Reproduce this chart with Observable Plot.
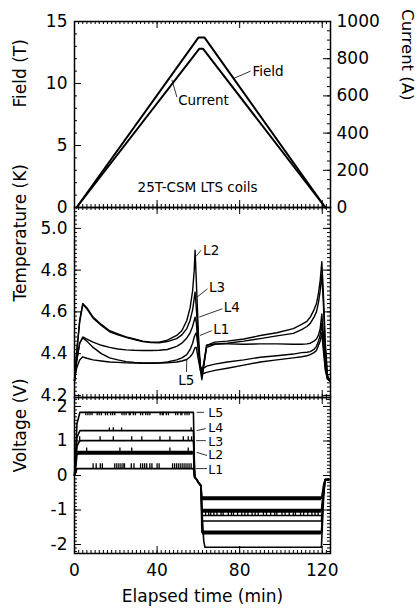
<!DOCTYPE html>
<html><head><meta charset="utf-8">
<script src="https://cdn.jsdelivr.net/npm/d3@7"></script>
<script src="https://cdn.jsdelivr.net/npm/@observablehq/plot@0.6"></script>
<style>
body{margin:0;background:#fff;}
#chart{position:relative;width:419px;height:611px;}
#chart svg{position:absolute;left:0;top:0;}
</style></head><body><div id="chart"></div>
<script>
// ---------- DATA ----------
// Panel 1: field (T) and current (A) vs elapsed time (min)
const fieldTime = [1, 60, 63, 121.5];
const fieldValue = [0, 13.7, 13.7, 0];
const currentTime = [1, 60.4, 62.3, 121.5];
const currentValue = [0, 853, 853, 0];

// Panel 2: temperatures (K) of the five LTS coils
const tempTime = [0, 1, 2.5, 4, 6, 9, 13, 17, 21, 25, 29, 33, 37, 41, 45, 49.5, 52, 54.4, 56, 57.2, 58, 58.4, 59, 60, 61, 61.7, 62.5, 64, 68, 74, 82, 90, 98, 106, 110, 112.6, 114.2, 116, 117.2, 118.2, 119, 119.8, 120.5, 121.5, 122.5, 123.5];
const tempL2 = [4.27, 4.40, 4.56, 4.64, 4.62, 4.575, 4.54, 4.51, 4.495, 4.48, 4.47, 4.46, 4.455, 4.455, 4.465, 4.487, 4.51, 4.559, 4.62, 4.70, 4.80, 4.895, 4.75, 4.50, 4.32, 4.275, 4.33, 4.44, 4.455, 4.46, 4.47, 4.487, 4.50, 4.52, 4.54, 4.555, 4.575, 4.61, 4.64, 4.69, 4.75, 4.84, 4.70, 4.45, 4.30, 4.27];
const tempL3 = [4.27, 4.40, 4.55, 4.635, 4.615, 4.57, 4.535, 4.505, 4.49, 4.478, 4.468, 4.458, 4.453, 4.452, 4.458, 4.472, 4.49, 4.52, 4.56, 4.61, 4.665, 4.695, 4.62, 4.45, 4.33, 4.30, 4.34, 4.43, 4.445, 4.45, 4.46, 4.472, 4.485, 4.497, 4.515, 4.53, 4.545, 4.575, 4.60, 4.647, 4.70, 4.78, 4.65, 4.42, 4.29, 4.27];
const tempL4 = [4.27, 4.36, 4.45, 4.48, 4.47, 4.455, 4.44, 4.43, 4.422, 4.418, 4.416, 4.415, 4.415, 4.416, 4.42, 4.435, 4.45, 4.475, 4.50, 4.53, 4.56, 4.575, 4.55, 4.42, 4.34, 4.31, 4.35, 4.44, 4.447, 4.447, 4.445, 4.447, 4.447, 4.445, 4.445, 4.447, 4.45, 4.46, 4.47, 4.49, 4.52, 4.59, 4.50, 4.36, 4.28, 4.27];
const tempL1 = [4.27, 4.36, 4.45, 4.475, 4.46, 4.43, 4.40, 4.38, 4.37, 4.362, 4.358, 4.355, 4.355, 4.356, 4.36, 4.37, 4.38, 4.395, 4.42, 4.45, 4.48, 4.49, 4.50, 4.42, 4.34, 4.325, 4.33, 4.34, 4.35, 4.36, 4.37, 4.383, 4.39, 4.398, 4.405, 4.407, 4.41, 4.42, 4.435, 4.46, 4.49, 4.545, 4.45, 4.33, 4.28, 4.27];
const tempL5 = [4.27, 4.33, 4.37, 4.385, 4.378, 4.37, 4.365, 4.36, 4.358, 4.356, 4.355, 4.354, 4.354, 4.355, 4.356, 4.36, 4.365, 4.372, 4.385, 4.40, 4.42, 4.43, 4.43, 4.37, 4.32, 4.305, 4.305, 4.31, 4.32, 4.33, 4.345, 4.36, 4.37, 4.38, 4.385, 4.39, 4.395, 4.405, 4.415, 4.44, 4.46, 4.50, 4.42, 4.32, 4.28, 4.27];

// Panel 3: coil voltages (V)
const voltTime = [0, 0.6, 1.2, 2.6, 57.6, 58.2, 59.0, 60.0, 61.3, 61.7, 62.6, 63.2, 119.6, 120.1, 120.7, 121.4, 123.2];
const voltL1 = [0, 0.08, 0.2, 0.2, 0.2, -0.05, -0.1, -0.2, -0.3, -0.66, -0.66, -0.66, -0.66, -0.5, -0.25, -0.12, -0.12];
const voltL2 = [0, 0.25, 0.6, 0.67, 0.67, -0.05, -0.1, -0.2, -0.3, -1.02, -1.02, -1.02, -1.02, -0.7, -0.35, -0.12, -0.12];
const voltL3 = [0, 0.35, 0.85, 1.01, 1.01, -0.05, -0.1, -0.2, -0.3, -1.32, -1.32, -1.32, -1.32, -0.9, -0.45, -0.12, -0.12];
const voltL4 = [0, 0.45, 1.1, 1.30, 1.30, -0.05, -0.1, -0.2, -0.3, -1.65, -1.65, -1.65, -1.65, -1.1, -0.5, -0.12, -0.12];
const voltL5 = [0, 0.7, 1.5, 1.83, 1.83, -0.05, -0.1, -0.2, -0.3, -1.0, -1.9, -2.08, -2.08, -1.4, -0.6, -0.12, -0.12];
// noisy envelopes (level, from, to)
const bandLevel = [0.66, -0.66, -1.02, -1.65];
const bandFrom = [1.5, 62, 62, 62];
const bandTo = [57.5, 119.6, 119.6, 119.6];
const l2LowTime = [62, 119.6];
const l2LowValue = [-1.16, -1.16];
// spikes (time of each glitch)
const spikeL5 = [5.5, 6.5, 7.5, 8.5, 11, 12, 13, 15, 16, 17.5, 18.5, 19.5, 23, 24, 25, 26.5, 27, 28.5, 29.5, 32, 33, 34.5, 35.5, 36.5, 41.5, 42.5, 43, 44.5, 45.5, 49, 50, 51.5, 52, 53.5, 54.5, 55.5];
const spikeL4 = [16.9, 18.8, 22.8, 56.5];
const spikeL3 = [2.5, 12.4, 18.8, 27.7, 32.6, 41.4, 46.2, 52.7, 55.1, 56.7];
const spikeL2 = [5.9, 22, 27.7, 46.2, 55.1];
const spikeL1 = [9, 10.5, 12.5, 13.5, 19.5, 20.5, 21.5, 22.5, 23.5, 24.2, 27.5, 28.8, 32, 33, 34, 35, 36.5, 37.5, 40, 41, 47.5, 48.5, 49.5, 50.5, 51.5, 52.5, 53.5, 54.5, 55.5, 56.5];
const spikeNeg = [63.5, 65, 66, 67.5, 69, 71, 72, 74.5, 76, 77, 79, 81, 82.5, 84, 86, 87.5, 89, 91.5, 93, 95, 97, 98, 100.5, 102, 104, 106, 107, 109.5, 111, 113, 115, 116.5, 118];

// tick labels
const timeTicks = [0, 40, 80, 120];
const fieldTicks = [0, 5, 10, 15];
const currentTicks = [0, 200, 400, 600, 800, 1000];
const tempTicks = [4.2, 4.4, 4.6, 4.8, 5.0];
const voltTicks = [-2, -1, 0, 1, 2];
const seriesNames = ["L1", "L2", "L3", "L4", "L5"];

// ---------- LAYOUT ----------
const W = 419, H = 611, ML = 74, MR = 89;
const FW = W - ML - MR;
const FONT = "DejaVu Sans, Verdana, sans-serif";
const xDomain = [0, 124];
const A2T = 15 / 1000; // current -> field axis units
const xMinor = d3.range(0, 124.01, 2);

function inDom(vals, dom) {
  const lo = Math.min(...dom) - 1e-9, hi = Math.max(...dom) + 1e-9;
  return vals.filter(v => v >= lo && v <= hi);
}
function boxTicks(fh, lMaj, lMin, rMaj, rMin, yDom) {
  const s = 1;
  return [
    Plot.tickX(xMinor, {x: d => d, insetTop: fh - 3, strokeWidth: s}),
    Plot.tickX(xMinor, {x: d => d, insetBottom: fh - 3, strokeWidth: s}),
    Plot.tickX(timeTicks, {x: d => d, insetTop: fh - 7, strokeWidth: s}),
    Plot.tickX(timeTicks, {x: d => d, insetBottom: fh - 7, strokeWidth: s}),
    Plot.tickY(inDom(lMin, yDom), {y: d => d, insetRight: FW - 3, strokeWidth: s}),
    Plot.tickY(inDom(lMaj, yDom), {y: d => d, insetRight: FW - 7, strokeWidth: s}),
    Plot.tickY(inDom(rMin, yDom), {y: d => d, insetLeft: FW - 3, strokeWidth: s}),
    Plot.tickY(inDom(rMaj, yDom), {y: d => d, insetLeft: FW - 7, strokeWidth: s}),
  ];
}
const baseStyle = {background: "transparent", fontFamily: FONT, fontSize: "17px", color: "black", overflow: "visible"};

// ---------- PANEL 1 ----------
const p1Dom = [0, 15];
const fieldData = fieldTime.map((t, i) => ({t, v: fieldValue[i]}));
const currentData = currentTime.map((t, i) => ({t, v: currentValue[i] * A2T}));
const p1 = Plot.plot({
  width: W, height: H, marginLeft: ML, marginRight: MR, marginTop: 21, marginBottom: H - 207,
  style: baseStyle,
  x: {domain: xDomain, axis: null},
  y: {domain: p1Dom, axis: null},
  marks: [
    ...boxTicks(186, fieldTicks, d3.range(0, 15.01, 1), currentTicks.map(a => a * A2T), d3.range(0, 1000.1, 50).map(a => a * A2T), p1Dom),
    Plot.frame({strokeWidth: 1.5}),
    Plot.line(fieldData, {x: "t", y: "v", strokeWidth: 2, stroke: "black"}),
    Plot.line(currentData, {x: "t", y: "v", strokeWidth: 2, stroke: "black"}),
    Plot.link([{x1: 77, y1: 10.4, x2: 85.3, y2: 11.0}], {x1: "x1", y1: "y1", x2: "x2", y2: "y2", strokeWidth: 0.8}),
    Plot.text(["Field"], {x: [86.2], y: [10.95], textAnchor: "start", fontSize: 13.5}),
    Plot.link([{x1: 47.2, y1: 10.3, x2: 49.6, y2: 8.9}], {x1: "x1", y1: "y1", x2: "x2", y2: "y2", strokeWidth: 0.8}),
    Plot.text(["Current"], {x: [50.2], y: [8.6], textAnchor: "start", fontSize: 13.5}),
    Plot.text(["25T-CSM LTS coils"], {x: [59.6], y: [1.62], fontSize: 13.5}),
    Plot.axisY(fieldTicks, {anchor: "left", tickSize: 0, tickPadding: 7, label: null, tickFormat: d => String(d)}),
    Plot.axisY(currentTicks.map(a => a * A2T), {anchor: "right", tickSize: 0, tickPadding: 6, label: null, tickFormat: d => String(Math.round(d / A2T))}),
    Plot.text(["Field (T)"], {frameAnchor: "left", rotate: -90, dx: -54, dy: -7, fontSize: 17}),
    Plot.text(["Current (A)"], {frameAnchor: "right", rotate: 90, dx: 77, dy: -14, fontSize: 16.5})
  ]
});

// ---------- PANEL 2 ----------
const p2Dom = [4.19, 5.1];
const tempSeries = {L1: tempL1, L2: tempL2, L3: tempL3, L4: tempL4, L5: tempL5};
const tempData = seriesNames.flatMap(s => tempTime.map((t, i) => ({s, t, v: tempSeries[s][i]})));
const tLabels = [
  {s: "L2", x1: 58.9, y1: 4.866, x2: 61.3, y2: 4.895, tx: 62.3, ty: 4.895},
  {s: "L3", x1: 59.2, y1: 4.67, x2: 64.4, y2: 4.71, tx: 65.1, ty: 4.715},
  {s: "L4", x1: 60.4, y1: 4.575, x2: 71.6, y2: 4.615, tx: 72.3, ty: 4.62},
  {s: "L1", x1: 60.8, y1: 4.487, x2: 66.4, y2: 4.51, tx: 67.2, ty: 4.515}
];
const p2 = Plot.plot({
  width: W, height: H, marginLeft: ML, marginRight: MR, marginTop: 207, marginBottom: H - 397,
  style: baseStyle,
  x: {domain: xDomain, axis: null},
  y: {domain: p2Dom, axis: null},
  marks: [
    ...boxTicks(190, tempTicks, d3.range(4.2, 5.101, 0.02), tempTicks, d3.range(4.2, 5.101, 0.02), p2Dom),
    Plot.frame({strokeWidth: 1.5}),
    Plot.line(tempData, {x: "t", y: "v", z: "s", stroke: "black", strokeWidth: 1.4}),
    Plot.link(tLabels, {x1: "x1", y1: "y1", x2: "x2", y2: "y2", strokeWidth: 0.8}),
    Plot.text(tLabels, {x: "tx", y: "ty", text: "s", textAnchor: "start", fontSize: 13.5}),
    Plot.link([{x1: 54.4, y1: 4.37, x2: 54.2, y2: 4.312}], {x1: "x1", y1: "y1", x2: "x2", y2: "y2", strokeWidth: 0.8}),
    Plot.text(["L5"], {x: [54.1], y: [4.272], fontSize: 13.5}),
    Plot.axisY(tempTicks, {anchor: "left", tickSize: 0, tickPadding: 7, label: null, tickFormat: d => d.toFixed(1)}),
    Plot.text(["Temperature (K)"], {frameAnchor: "left", rotate: -90, dx: -54, dy: -1, fontSize: 17})
  ]
});

// ---------- PANEL 3 ----------
const p3Dom = [-2.26, 2.26];
const voltSeries = {L1: voltL1, L2: voltL2, L3: voltL3, L4: voltL4, L5: voltL5};
const voltData = seriesNames.flatMap(s => voltTime.map((t, i) => ({s, t, v: voltSeries[s][i]})));
const bands = bandLevel.map((v, i) => ({v, a: bandFrom[i], b: bandTo[i]}));
const l2Low = l2LowTime.map((t, i) => ({t, v: l2LowValue[i]}));
const spikes = [
  ...spikeL5.map(t => ({t, a: 1.83, b: 1.73})),
  ...spikeL4.map(t => ({t, a: 1.30, b: 1.38})),
  ...spikeL3.map(t => ({t, a: 1.01, b: 1.12})),
  ...spikeL2.map(t => ({t, a: 0.67, b: 0.80})),
  ...spikeL1.map(t => ({t, a: 0.2, b: 0.34})),
  ...spikeNeg.map(t => ({t, a: -1.02, b: -1.16}))
];
const vLabels = [
  {s: "L5", x1: 59.2, y1: 1.83, x2: 62.7, y2: 1.83, tx: 64.8, ty: 1.80},
  {s: "L4", x1: 59.2, y1: 1.30, x2: 63.6, y2: 1.36, tx: 64.8, ty: 1.38},
  {s: "L3", x1: 58.9, y1: 1.01, x2: 63.6, y2: 1.01, tx: 64.8, ty: 0.98},
  {s: "L2", x1: 59.2, y1: 0.67, x2: 64.2, y2: 0.58, tx: 64.8, ty: 0.58},
  {s: "L1", x1: 58.9, y1: 0.2, x2: 64.2, y2: 0.2, tx: 64.8, ty: 0.16}
];
const p3 = Plot.plot({
  width: W, height: H, marginLeft: ML, marginRight: MR, marginTop: 397, marginBottom: H - 553,
  style: baseStyle,
  x: {domain: xDomain, axis: null},
  y: {domain: p3Dom, axis: null},
  marks: [
    ...boxTicks(156, voltTicks, d3.range(-2.2, 2.21, 0.1), voltTicks, d3.range(-2.2, 2.21, 0.1), p3Dom),
    Plot.frame({strokeWidth: 1.5}),
    Plot.ruleY(bands, {y: "v", x1: "a", x2: "b", strokeWidth: 4}),
    Plot.line(l2Low, {x: "t", y: "v", strokeWidth: 1.4}),
    Plot.ruleX(spikes, {x: "t", y1: "a", y2: "b", strokeWidth: 1.3}),
    Plot.line(voltData, {x: "t", y: "v", z: "s", stroke: "black", strokeWidth: 1.6}),
    Plot.link(vLabels, {x1: "x1", y1: "y1", x2: "x2", y2: "y2", strokeWidth: 0.8}),
    Plot.text(vLabels, {x: "tx", y: "ty", text: "s", textAnchor: "start", fontSize: 12.5}),
    Plot.axisY(voltTicks, {anchor: "left", tickSize: 0, tickPadding: 7, label: null, tickFormat: d => String(d)}),
    Plot.axisX(timeTicks, {anchor: "bottom", tickSize: 0, tickPadding: 10, label: null, tickFormat: d => String(d)}),
    Plot.text(["Voltage (V)"], {frameAnchor: "left", rotate: -90, dx: -54, dy: -3, fontSize: 17}),
    Plot.text(["Elapsed time (min)"], {frameAnchor: "bottom", dy: 48, fontSize: 17})
  ]
});

const root = document.getElementById("chart");
root.append(p3, p2, p1);
</script></body></html>
